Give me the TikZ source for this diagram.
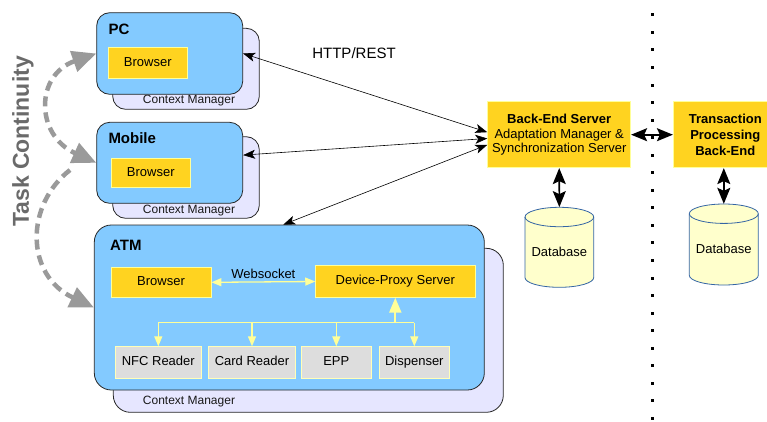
\documentclass[tikz,border=0pt]{standalone}
\usepackage{fontspec}
\setmainfont{Liberation Sans}
\usepackage{tikz}
\usetikzlibrary{arrows.meta, calc}
\definecolor{clientblue}{HTML}{83CAFF}
\definecolor{ctxlav}{HTML}{E6E6FF}
\definecolor{gold}{HTML}{FFD320}
\definecolor{paleyel}{HTML}{FFFF99}
\definecolor{hwgray}{HTML}{DDDDDD}
\definecolor{dbfill}{HTML}{FFFFCC}
\definecolor{dbline}{HTML}{3465A4}
\definecolor{taskgray}{HTML}{9A9A9A}
\definecolor{labelgray}{HTML}{6A6A6A}
\tikzset{
  client/.style={draw=black!85, fill=clientblue, line width=0.8pt, inner sep=0pt},
  ctxmgr/.style={draw=black!85, fill=ctxlav, line width=0.8pt, inner sep=0pt},
  oneline/.style={text height=9.4pt, text depth=2.8pt},
  yelbox/.style={draw=paleyel, fill=gold, line width=0.8pt, inner sep=0pt},
  hwbox/.style={draw=paleyel!70, fill=hwgray, line width=0.8pt, inner sep=0pt,
    minimum height=31.6pt, oneline},
  title/.style={anchor=west, inner sep=0pt, font=\bfseries\fontsize{15}{18}\selectfont},
  cmlabel/.style={inner sep=0pt, text=black!90, font=\fontsize{12}{14}\selectfont},
  dblabel/.style={inner sep=0pt, minimum height=90pt},
  dbcyl/.style={draw=dbline, fill=dbfill, line width=0.8pt},
  httplink/.style={line width=0.6pt,
    {Stealth[length=12pt,width=9pt,inset=3pt]}-{Stealth[length=12pt,width=9pt,inset=3pt]}},
  bigarrow/.style={line width=1.6pt,
    {Stealth[length=16pt,width=13pt,inset=3pt]}-{Stealth[length=16pt,width=13pt,inset=3pt]}},
  yellink/.style={draw=paleyel, line width=1.3pt},
  continuity/.style={draw=taskgray, line width=4.5pt, dash pattern=on 10pt off 6pt,
    {Triangle[length=24pt,width=21pt]}-{Triangle[length=24pt,width=21pt]}}
}

\begin{document}
\begin{tikzpicture}[x=1pt, y=-1pt, font=\fontsize{13}{15}\selectfont]
\useasboundingbox (0,0) rectangle (767,421);

% PC
\node[ctxmgr, rounded corners=13pt, minimum width=146.6pt, minimum height=81pt] (pccm) at (186,68.8) {};
\node[cmlabel] (pccmlabel) at (189,101) {Context Manager};
\node[client, rounded corners=13pt, minimum width=146pt, minimum height=81.6pt] (pc) at (169.7,53.5) {};
\node[title] (pclabel) at (108.3,29) {PC};
\node[yelbox, oneline, minimum width=79pt, minimum height=31.4pt] (pcbrowser) at (147.8,63) {Browser};

% Mobile
\node[ctxmgr, rounded corners=13pt, minimum width=146.6pt, minimum height=81.6pt] (mobilecm) at (186,177.5) {};
\node[cmlabel] (mobilecmlabel) at (189,210.7) {Context Manager};
\node[client, rounded corners=13pt, minimum width=146pt, minimum height=81pt] (mobile) at (169.7,162.8) {};
\node[title] (mobilelabel) at (108.3,138) {Mobile};
\node[yelbox, oneline, minimum width=78.3pt, minimum height=29.4pt] (mobilebrowser) at (150.8,173) {Browser};

% ATM
\node[ctxmgr, rounded corners=17pt, minimum width=390pt, minimum height=164pt] (atmcm) at (308.3,330.3) {};
\node[cmlabel] (atmcmlabel) at (189,401.7) {Context Manager};
\node[client, rounded corners=17pt, minimum width=390pt, minimum height=165pt] (atm) at (289.3,307.5) {};
\node[title] (atmlabel) at (110,245) {ATM};
\node[yelbox, oneline, minimum width=100pt, minimum height=30pt] (atmbrowser) at (161,282.3) {Browser};
\node[yelbox, oneline, minimum width=159.3pt, minimum height=31.6pt] (proxy) at (395.3,281.5) {Device-Proxy Server};
\node[hwbox, minimum width=86.7pt] (nfc) at (158.3,362.5) {NFC Reader};
\node[hwbox, minimum width=87.4pt] (card) at (252,362.5) {Card Reader};
\node[hwbox, minimum width=69.3pt] (epp) at (336.3,362.5) {EPP};
\node[hwbox, minimum width=70pt] (disp) at (414.3,362.5) {Dispenser};

\draw[yellink, {Triangle[length=10pt,width=8pt]}-{Triangle[length=10pt,width=8pt]}]
  (atmbrowser.east) -- node[midway, above, inner sep=3pt] {Websocket} (proxy.west);
\coordinate (bus) at (395.3,322.7);
\draw[yellink] (nfc.north |- bus) -- (disp.north |- bus);
\foreach \hw in {nfc,card,epp,disp}
  \draw[yellink, -{Triangle[length=10pt,width=8pt]}] (\hw.north |- bus) -- (\hw.north);
\draw[yellink, line width=2.2pt, -{Triangle[length=15pt,width=12pt]}] (bus) -- (proxy.south);

% Task continuity
\node[rotate=90, text=labelgray, font=\bfseries\fontsize{23}{26}\selectfont] (tasklabel) at (23,141.5) {Task Continuity};
\draw[continuity] (pc.west) .. controls (35,75) and (35,135) .. (mobile.west);
\coordinate (handoff) at (70,170);
\draw[continuity, -{Triangle[length=24pt,width=21pt]}] (handoff) .. controls (25,205) and (25,275) .. (atm.west);

% Back end
\node[yelbox, minimum width=143pt, minimum height=66pt, align=center, font=\fontsize{13}{14.5}\selectfont] (backend) at (559.2,134.7)
  {\textbf{Back-End Server}\\Adaptation Manager \&\\Synchronization Server};
\node[yelbox, minimum width=104pt, minimum height=66pt, align=center, font=\bfseries\fontsize{13}{15.7}\selectfont] (tpb) at (725.3,134.7)
  {Transaction\\Processing\\Back-End};

\node (httplabel) at (354,53.3) {\fontsize{15}{18}\selectfont HTTP/REST};
\draw[httplink] (backend.178) -- (pc.east);
\draw[httplink] (backend.183) -- (mobile.6);
\draw[httplink] (backend.188) -- ($(atm.north)+(-6,0)$);

% Databases
\filldraw[dbcyl] (525,217) -- (525,277.6) arc[start angle=180, end angle=360, x radius=34.35pt, y radius=9.7pt]
  -- (593.7,217) arc[start angle=0, end angle=180, x radius=34.35pt, y radius=9.7pt] -- cycle;
\draw[dbcyl, fill=none] (525,217) arc[start angle=180, end angle=360, x radius=34.35pt, y radius=9.7pt];
\node[dblabel] (db1) at (559.35,252.3) {Database};

\filldraw[dbcyl] (689.3,213.7) -- (689.3,275.3) arc[start angle=180, end angle=360, x radius=34.5pt, y radius=9.7pt]
  -- (758.3,213.7) arc[start angle=0, end angle=180, x radius=34.5pt, y radius=9.7pt] -- cycle;
\draw[dbcyl, fill=none] (689.3,213.7) arc[start angle=180, end angle=360, x radius=34.5pt, y radius=9.7pt];
\node[dblabel, minimum height=90.6pt] (db2) at (723.8,249.3) {Database};

% Separator
\foreach \i in {0,...,23}
  \fill (650.5,{13.3+17.55*\i}) rectangle ++(3,3);

\draw[bigarrow] (backend.east) -- (tpb.west);
\draw[bigarrow] (backend.south) -- (db1.north);
\draw[bigarrow] (db2.north |- tpb.south) -- (db2.north);

\end{tikzpicture}
\end{document}
